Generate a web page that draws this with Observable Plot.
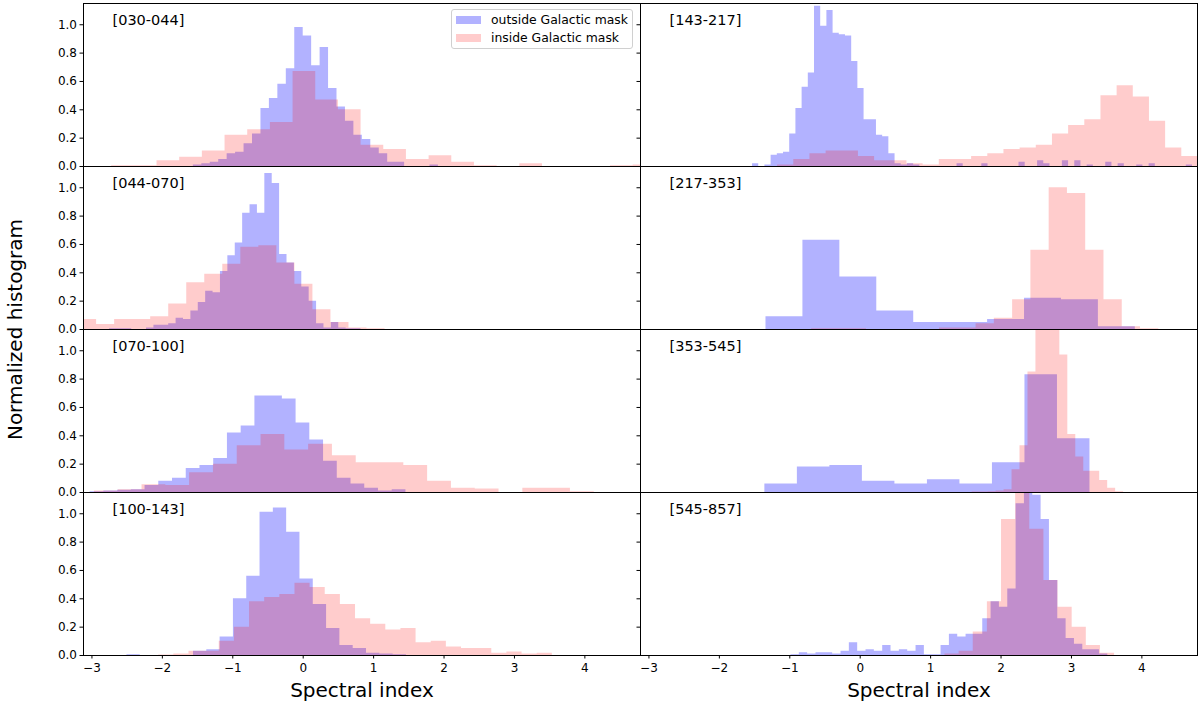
<!DOCTYPE html>
<html>
<head>
<meta charset="utf-8">
<script src="https://cdn.jsdelivr.net/npm/d3@7"></script>
<script src="https://cdn.jsdelivr.net/npm/@observablehq/plot@0.6"></script>
<style>
  body { margin: 0; background: #fff; }
  #chart { position: relative; width: 1200px; height: 710px; font-family: "DejaVu Sans", sans-serif; }
  .legend { position: absolute; left: 451px; top: 9px; width: 182px; height: 40px; background: #fff;
    border: 1px solid #d0d0d0; border-radius: 3px; font-size: 12.4px; color: #000; box-sizing: border-box; }
  .legend .sw { position: absolute; left: 4px; width: 25px; height: 8px; }
  .legend .lb { position: absolute; left: 39px; white-space: nowrap; line-height: 16px; }
</style>
</head>
<body>
<div id="chart"></div>
<script>
// paneles: 4 filas x 2 columnas
const panelNames = ["[030-044]", "[044-070]", "[070-100]", "[100-143]", "[143-217]", "[217-353]", "[353-545]", "[545-857]"]
const panelCols = ["L", "L", "L", "L", "R", "R", "R", "R"]
const panelRows = [0, 1, 2, 3, 0, 1, 2, 3]

const xTicks = [-3, -2, -1, 0, 1, 2, 3, 4]
const yTicks = [0, 0.2, 0.4, 0.6, 0.8, 1.0]

// bins: borde izquierdo del primer bin y ancho de bin, por panel
const outStart = [-1.56, -2.855, -3.026, -2.503, -1.529, -1.338, -1.354, -0.983]
const outWidth = [0.12, 0.105, 0.195, 0.189, 0.088, 0.5245, 0.4617, 0.1184]
const inStart = [-2.72, -3.19, -2.965, -2.052, -1.173, -0.69, 1.590, 1.204]
const inWidth = [0.322, 0.256, 0.338, 0.215, 0.2296, 0.2595, 0.1132, 0.2007]

// alturas (outside Galactic mask)
const out030 = [0.01, 0.02, 0.03, 0.05, 0.09, 0.10, 0.16, 0.23, 0.41, 0.48, 0.58, 0.69, 0.98, 0.92, 0.71, 0.84, 0.55, 0.42, 0.32, 0.22, 0.19, 0.13, 0.09, 0.03, 0.03, 0, 0, 0, 0.01]
const out044 = [0, 0.005, 0.005, 0.005, 0, 0, 0.01, 0.03, 0.03, 0.04, 0.08, 0.07, 0.13, 0.19, 0.27, 0.26, 0.41, 0.52, 0.61, 0.82, 0.88, 0.82, 1.10, 1.03, 0.53, 0.47, 0.41, 0.30, 0.20, 0.04, 0.01, 0.05, 0.01, 0.005, 0.005]
const out070 = [0.005, 0.01, 0.015, 0.02, 0.05, 0.08, 0.10, 0.17, 0.19, 0.24, 0.42, 0.47, 0.68, 0.68, 0.66, 0.49, 0.37, 0.22, 0.10, 0.06, 0.03, 0.01, 0.02]
const out100 = [0.005, 0, 0, 0, 0, 0.03, 0.04, 0.13, 0.40, 0.56, 1.01, 1.04, 0.87, 0.54, 0.36, 0.19, 0.07, 0.05, 0.015, 0.01, 0.005]
const out143 = [0.02, 0, 0.01, 0.08, 0.09, 0.10, 0.23, 0.41, 0.56, 0.66, 1.13, 0.99, 1.10, 0.94, 0.93, 0.92, 0.74, 0.55, 0.33, 0.33, 0.22, 0.21, 0.09, 0.02, 0.01, 0.02, 0.01, 0, 0, 0, 0, 0, 0, 0.02, 0, 0, 0, 0.02, 0, 0, 0, 0, 0, 0.03, 0, 0, 0.04, 0.02, 0, 0, 0.04, 0, 0.04, 0, 0.01, 0, 0, 0.03, 0, 0.02, 0, 0, 0.01, 0, 0.02, 0, 0, 0, 0, 0, 0.01]
const out217 = [0.09, 0.63, 0.37, 0.13, 0.05, 0.05, 0.07, 0.22, 0.21, 0.02]
const out353 = [0.06, 0.18, 0.19, 0.08, 0.06, 0.09, 0.06, 0.21, 0.83, 0.38]
const out545 = [0.005, 0.02, 0.01, 0.02, 0.02, 0.01, 0.03, 0.09, 0.03, 0.04, 0.03, 0.07, 0.03, 0.04, 0.03, 0.07, 0.005, 0.005, 0.07, 0.15, 0.13, 0.15, 0.15, 0.26, 0.38, 0.34, 0.47, 1.07, 1.25, 1.13, 0.96, 0.53, 0.26, 0.12, 0.08, 0.04, 0.04, 0.01]

// alturas (inside Galactic mask)
const in030 = [0.005, 0.005, 0.04, 0.065, 0.11, 0.22, 0.26, 0.31, 0.67, 0.47, 0.40, 0.15, 0.12, 0.05, 0.075, 0.03, 0.005, 0, 0.02, 0, 0, 0, 0.005, 0.01, 0.01]
const in044 = [0.07, 0.035, 0.07, 0.07, 0.09, 0.18, 0.33, 0.39, 0.46, 0.58, 0.59, 0.47, 0.32, 0.14, 0.05, 0.01, 0.005]
const in070 = [0.01, 0.02, 0.055, 0.05, 0.14, 0.20, 0.33, 0.41, 0.30, 0.34, 0.26, 0.21, 0.21, 0.19, 0.08, 0.03, 0.025, 0, 0.03, 0.03, 0.005]
const in100 = [0.003, 0.01, 0.03, 0.03, 0.10, 0.20, 0.38, 0.41, 0.43, 0.51, 0.48, 0.43, 0.36, 0.26, 0.22, 0.18, 0.19, 0.09, 0.10, 0.06, 0.05, 0.05, 0.015, 0.025, 0.01, 0.015]
const in143 = [0.01, 0.05, 0.09, 0.11, 0.11, 0.07, 0.04, 0.04, 0.02, 0.01, 0.05, 0.05, 0.07, 0.09, 0.12, 0.13, 0.15, 0.23, 0.29, 0.33, 0.50, 0.57, 0.49, 0.32, 0.13, 0.07, 0.07, 0.05]
const in217 = [0.005, 0.005, 0.005, 0, 0, 0, 0, 0.01, 0.01, 0.04, 0.08, 0.21, 0.56, 1.00, 0.96, 0.56, 0.21, 0.02, 0.005]
const in353 = [0.003, 0.003, 0.005, 0.01, 0.02, 0.16, 0.33, 0.85, 1.2, 1.25, 1.2, 0.97, 0.41, 0.25, 0.15, 0.15, 0.085, 0.03, 0.005]
const in545 = [0.01, 0.03, 0.165, 0.38, 0.96, 1.25, 0.89, 0.53, 0.34, 0.20, 0.07, 0.015]

const outHeights = [out030, out044, out070, out100, out143, out217, out353, out545]
const inHeights = [in030, in044, in070, in100, in143, in217, in353, in545]

// convierte un histograma en puntos para un area escalonada
function steps(start, width, heights, i) {
  let pts = heights.map((h, k) => ({x: start + k * width, y: h}))
  pts.push({x: start + heights.length * width, y: heights[heights.length - 1]})
  return pts.map(p => ({...p, col: panelCols[i], row: panelRows[i]}))
}
const outData = outHeights.flatMap((hs, i) => steps(outStart[i], outWidth[i], hs, i))
const inData = inHeights.flatMap((hs, i) => steps(inStart[i], inWidth[i], hs, i))

let chart = Plot.plot({
  width: 1200,
  height: 710,
  marginLeft: 82,
  marginRight: 3,
  marginTop: 3,
  marginBottom: 55,
  x: {domain: [-3.12, 4.79]},
  y: {domain: [0, 1.15]},
  fx: {domain: ["L", "R"], padding: 0, axis: null},
  fy: {domain: [0, 1, 2, 3], padding: 0, axis: null},
  style: {fontFamily: '"DejaVu Sans", sans-serif', fontSize: '12px', color: 'black', background: 'white'},
  marks: [
    Plot.areaY(outData, {x: 'x', y: 'y', fx: 'col', fy: 'row', curve: 'step-after', fill: 'blue', fillOpacity: 0.3, clip: true}),
    Plot.areaY(inData, {x: 'x', y: 'y', fx: 'col', fy: 'row', curve: 'step-after', fill: 'red', fillOpacity: 0.2, clip: true}),
    Plot.frame({stroke: 'black', strokeWidth: 1}),
    Plot.axisX({ticks: xTicks, tickSize: 3.5, tickPadding: 4, label: null}),
    Plot.axisY({ticks: yTicks, tickFormat: '.1f', tickSize: 3.5, tickPadding: 3, label: null}),
    Plot.axisY({ticks: yTicks, tickFormat: () => '', tickSize: 3.5, label: null, facetAnchor: 'right'}),
    Plot.text(panelNames, {fx: panelCols, fy: panelRows, text: d => d, frameAnchor: 'top-left', textAnchor: 'start', lineAnchor: 'middle', dx: 29, dy: 17, fontSize: 14.5}),
    Plot.text(['Spectral index', 'Spectral index'], {fx: ['L', 'R'], fy: [3, 3], text: d => d, frameAnchor: 'bottom', lineAnchor: 'middle', dy: 35, fontSize: 20}),
    Plot.text(['Normalized histogram'], {fx: ['L'], fy: [1], text: d => d, frameAnchor: 'bottom-left', textAnchor: 'middle', lineAnchor: 'middle', rotate: -90, dx: -68, fontSize: 20}),
  ]
})

d3.select('#chart').append(() => chart)

// leyenda dentro del primer panel
const legend = d3.select('#chart').append('div').attr('class', 'legend')
const items = [['outside Galactic mask', 'rgba(0,0,255,0.3)', 10], ['inside Galactic mask', 'rgba(255,0,0,0.2)', 27.7]]
items.forEach(([label, color, mid]) => {
  legend.append('div').attr('class', 'sw').style('background', color).style('top', (mid - 4) + 'px')
  legend.append('div').attr('class', 'lb').style('top', (mid - 8) + 'px').text(label)
})
</script>
</body>
</html>
